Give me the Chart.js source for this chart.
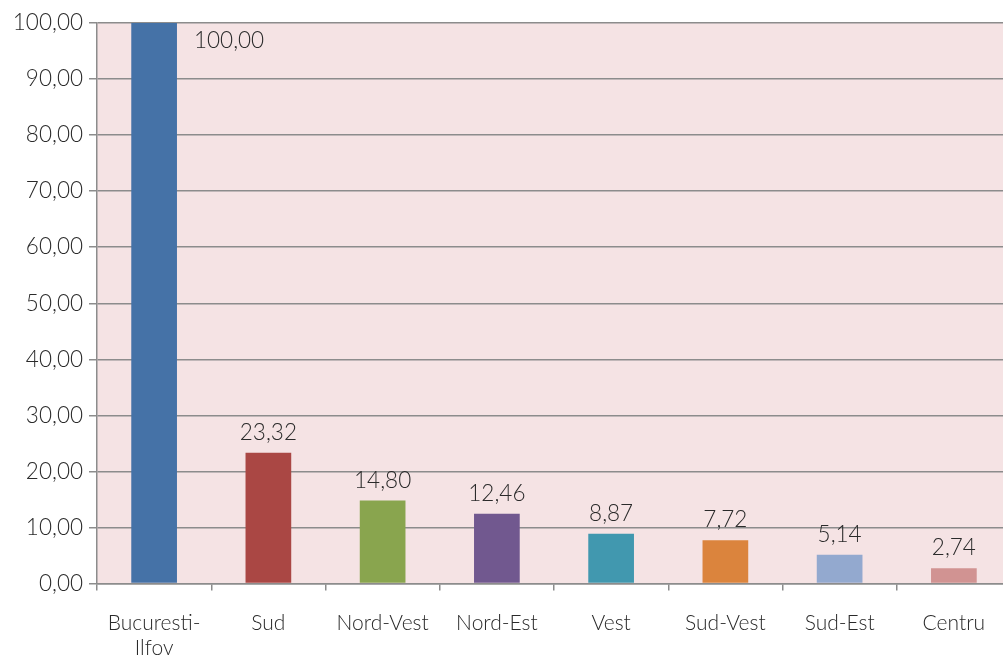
<!DOCTYPE html>
<html><head><meta charset="utf-8">
<script src="https://cdn.jsdelivr.net/npm/chart.js@4/dist/chart.umd.min.js"></script>
<style>
html,body{margin:0;padding:0;background:#fff;overflow:hidden;width:1003px;height:655px;}
#wrap{width:1011px;height:655px;position:relative;}
</style></head>
<body>
<div id="wrap"><canvas id="c" width="1011" height="655"></canvas></div>
<script>
const categories = [["Bucuresti-","Ilfov"], "Sud", "Nord-Vest", "Nord-Est", "Vest", "Sud-Vest", "Sud-Est", "Centru"];
const values = [100.00, 23.32, 14.80, 12.46, 8.87, 7.72, 5.14, 2.74];
const barColors = ["#4572A7", "#AA4744", "#89A54E", "#71588F", "#4198AF", "#DB843D", "#93A9CF", "#D19392"];
const yTicks = [0, 10, 20, 30, 40, 50, 60, 70, 80, 90, 100];

const fmt = v => v.toFixed(2).replace('.', ',');
const FONT = "Lato";
const TXT = "#2a2a2a";

const bgPlugin = {
  id: 'bg',
  beforeDraw(chart) {
    const {ctx, chartArea: a} = chart;
    ctx.save();
    ctx.fillStyle = '#F5E3E4';
    ctx.fillRect(a.left, a.top, a.right - a.left, a.bottom - a.top);
    ctx.restore();
  }
};

const labelPlugin = {
  id: 'vals',
  afterDatasetsDraw(chart) {
    const {ctx, chartArea: a} = chart;
    const meta = chart.getDatasetMeta(0);
    ctx.save();
    ctx.font = `300 22.5px ${FONT}`;
    ctx.fillStyle = TXT;
    ctx.textBaseline = 'middle';
    meta.data.forEach((bar, i) => {
      const txt = fmt(values[i]);
      let y = bar.y - 20;
      if (y - 10 < a.top) {
        ctx.textAlign = 'left';
        ctx.fillText(txt, bar.x + bar.width / 2 + 17, bar.y + 18);
      } else {
        ctx.textAlign = 'center';
        ctx.fillText(txt, bar.x, y);
      }
    });
    ctx.restore();
  }
};

new Chart(document.getElementById('c'), {
  type: 'bar',
  data: {
    labels: categories,
    datasets: [{
      data: values,
      backgroundColor: barColors,
      borderWidth: 0,
      barPercentage: 0.4,
      categoryPercentage: 1.0
    }]
  },
  options: {
    responsive: false,
    animation: false,
    devicePixelRatio: 1,
    layout: {padding: {top: 23, right: 0, bottom: 0, left: 0}},
    plugins: {legend: {display: false}, tooltip: {enabled: false}},
    scales: {
      x: {
        offset: true,
        grid: {offset: true, drawOnChartArea: false, drawTicks: true, tickLength: 7, color: '#8c8c8c', lineWidth: 1.5},
        border: {display: true, color: '#8c8c8c', width: 1.5},
        ticks: {color: TXT, font: {family: FONT, size: 21, weight: 300}, padding: 20, maxRotation: 0, autoSkip: false},
        afterFit(s) { s.height = 71.5; }
      },
      y: {
        min: 0, max: 100,
        afterBuildTicks(s) { s.ticks = yTicks.map(v => ({value: v})); },
        grid: {color: '#8c8c8c', lineWidth: 1.5, tickLength: 8},
        border: {display: true, color: '#8c8c8c', width: 1.5},
        ticks: {color: TXT, font: {family: FONT, size: 22.5, weight: 300}, padding: 6, callback: v => fmt(v)},
        afterFit(s) { s.width = 97; }
      }
    }
  },
  plugins: [bgPlugin, labelPlugin]
});
</script>
</body></html>
